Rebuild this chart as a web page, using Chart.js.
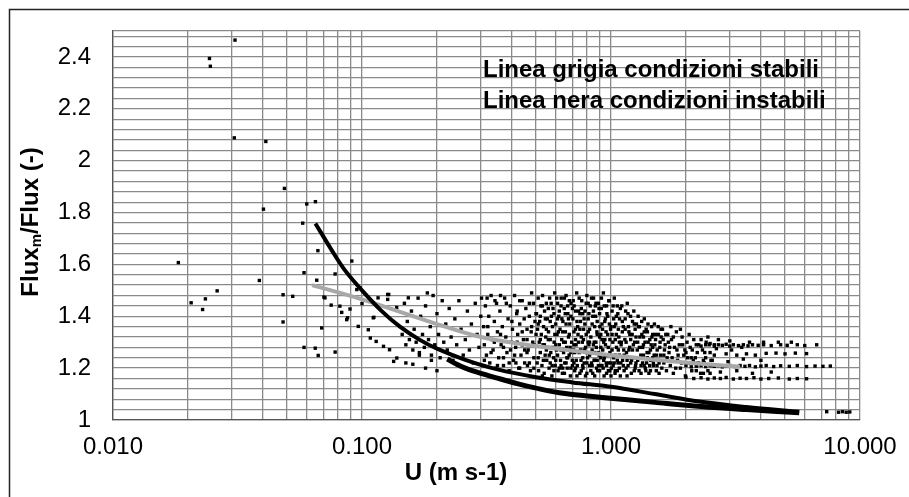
<!DOCTYPE html>
<html>
<head>
<meta charset="utf-8">
<script src="https://cdn.jsdelivr.net/npm/chart.js@4/dist/chart.umd.min.js"></script>
<style>
  html, body { margin: 0; padding: 0; background: #fff; }
  #wrap { position: relative; width: 909px; height: 497px; }
</style>
</head>
<body>
<div id="wrap"><canvas id="chart" width="909" height="497"></canvas></div>
<script>
/* Flux_m/Flux vs U — scatter with stable (grey) and unstable (black) fit lines */

// Axis setup
const xMajor = [0.01, 0.1, 1, 10];
const xLabels = ['0.010', '0.100', '1.000', '10.000'];
const yLabelVals = [1, 1.2, 1.4, 1.6, 1.8, 2, 2.2, 2.4];
const yLabels = ['1', '1.2', '1.4', '1.6', '1.8', '2', '2.2', '2.4'];
const Y_MIN = 1, Y_MAX = 2.5, Y_MINOR = 0.04;

// Fit lines [U, ratio]
const lineInstabili = [[0.065,1.758],[0.075,1.66],[0.085,1.58],[0.1,1.5],[0.12,1.42],[0.142,1.36],[0.17,1.31],[0.2,1.275],[0.26,1.232],[0.35,1.195],[0.5,1.165],[0.7,1.145],[1.0,1.128],[1.5,1.1],[2.3,1.07],[3.5,1.05],[5.7,1.032]];
const lineStabili = [[0.063,1.52],[0.1,1.465],[0.2,1.37],[0.3,1.32],[0.5,1.285],[1.0,1.25],[2.0,1.222],[3.3,1.205]];

// Dense lower band of points
const bandLower = [[0.22,1.235],[0.24,1.215],[0.26,1.2],[0.3,1.18],[0.36,1.158],[0.42,1.14],[0.49,1.125],[0.62,1.105],[0.9,1.088],[1.5,1.068],[2.3,1.052],[3.5,1.04],[5.7,1.028]];

// Scattered points
const ptsLow = [[0.0183,1.607],[0.0206,1.452],[0.0229,1.426],[0.0235,1.467],[0.0244,2.394],[0.0246,2.364],[0.0262,1.498],[0.0307,2.088],[0.0309,2.465],[0.0387,1.538],[0.0402,1.813],[0.0411,2.074],[0.0482,1.483],[0.0482,1.378],[0.0488,1.893],[0.0527,1.477],[0.0578,1.759],[0.0585,1.568],[0.0585,1.28],[0.06,1.833],[0.065,1.842],[0.0649,1.277],[0.0658,1.539],[0.0665,1.653],[0.0667,1.249],[0.0689,1.355],[0.0703,1.474],[0.071,1.471],[0.0752,1.443],[0.078,1.563],[0.078,1.262],[0.0815,1.439],[0.0829,1.415],[0.0868,1.387],[0.0875,1.394],[0.0895,1.428],[0.091,1.613],[0.0953,1.503],[0.0966,1.361],[0.098,1.51],[0.1,1.449],[0.106,1.348],[0.108,1.316],[0.111,1.394],[0.1116,1.396],[0.114,1.303],[0.116,1.471],[0.122,1.284],[0.1268,1.484],[0.1268,1.465],[0.128,1.484],[0.129,1.271],[0.134,1.226],[0.1378,1.434],[0.138,1.239],[0.1535,1.471]];

const ptsA = [[0.145,1.33],[0.148,1.45],[0.15,1.29],[0.152,1.38],[0.155,1.31],[0.158,1.42],[0.16,1.27],[0.162,1.35],[0.165,1.30],[0.168,1.47],[0.17,1.26],[0.172,1.40],[0.175,1.33],[0.178,1.28],[0.18,1.44],[0.183,1.49],[0.185,1.31],[0.188,1.36],[0.19,1.25],[0.193,1.48],[0.196,1.29],[0.2,1.41],[0.203,1.33],[0.206,1.24],[0.21,1.46],[0.213,1.30],[0.217,1.37],[0.22,1.27],[0.224,1.43],[0.228,1.32],[0.232,1.23],[0.236,1.39],[0.24,1.29],[0.245,1.46],[0.25,1.35],[0.255,1.25],[0.26,1.31],[0.265,1.42],[0.27,1.27],[0.275,1.37],[0.28,1.22],[0.285,1.45],[0.29,1.33],[0.295,1.28],[0.3,1.40],[0.15,1.22],[0.16,1.215],[0.17,1.25],[0.18,1.2],[0.19,1.23],[0.2,1.19]];

const ptsB = [[0.302,1.47],[0.305,1.21],[0.308,1.36],[0.31,1.29],[0.313,1.44],[0.316,1.25],[0.32,1.33],[0.323,1.40],[0.326,1.22],[0.33,1.48],[0.333,1.31],[0.336,1.27],[0.34,1.38],[0.344,1.20],[0.347,1.45],[0.35,1.34],[0.354,1.24],[0.358,1.42],[0.362,1.29],[0.366,1.36],[0.37,1.21],[0.374,1.47],[0.378,1.32],[0.382,1.26],[0.386,1.39],[0.39,1.19],[0.394,1.44],[0.398,1.30],[0.402,1.35],[0.406,1.23],[0.41,1.48],[0.414,1.28],[0.418,1.41],[0.422,1.33],[0.426,1.20],[0.43,1.37],[0.435,1.25],[0.44,1.46],[0.445,1.31],[0.45,1.22],[0.455,1.43],[0.46,1.35],[0.465,1.27],[0.47,1.40],[0.475,1.19],[0.48,1.49],[0.485,1.30],[0.49,1.24],[0.495,1.38],[0.5,1.33],[0.318,1.47],[0.342,1.46],[0.36,1.48],[0.38,1.45],[0.395,1.27],[0.415,1.22],[0.43,1.46],[0.448,1.39],[0.462,1.21],[0.478,1.34],[0.488,1.45],[0.34,1.30],[0.37,1.28],[0.42,1.30],[0.46,1.31],
  [0.31,1.23],[0.33,1.26],[0.35,1.21],[0.37,1.24],[0.39,1.22],[0.41,1.25],[0.43,1.2],[0.45,1.27],[0.47,1.22],[0.49,1.2],[0.32,1.36],[0.36,1.33],[0.4,1.38],[0.44,1.29],[0.48,1.36]];

const ptsC1 = [[0.502,1.41],[0.505,1.22],[0.507,1.35],[0.51,1.47],[0.512,1.19],[0.515,1.30],[0.517,1.38],[0.52,1.26],[0.523,1.44],[0.525,1.33],[0.528,1.21],[0.531,1.48],[0.533,1.29],[0.536,1.36],[0.539,1.18],[0.541,1.42],[0.544,1.25],[0.547,1.32],[0.55,1.45],[0.552,1.23],[0.555,1.39],[0.558,1.28],[0.561,1.34],[0.564,1.20],[0.567,1.47],[0.57,1.31],[0.573,1.26],[0.576,1.40],[0.579,1.17],[0.582,1.36],[0.585,1.43],[0.588,1.24],[0.591,1.30],[0.594,1.49],[0.597,1.21],[0.6,1.37],[0.604,1.27],[0.607,1.33],[0.61,1.45],[0.613,1.19],[0.617,1.40],[0.62,1.29],[0.624,1.35],[0.627,1.23],[0.631,1.47],[0.634,1.31],[0.638,1.18],[0.641,1.38],[0.645,1.26],[0.649,1.43],[0.652,1.22],[0.656,1.34],[0.66,1.48],[0.664,1.28],[0.667,1.20],[0.671,1.41],[0.675,1.32],[0.679,1.25],[0.683,1.37],[0.687,1.17],[0.691,1.45],[0.695,1.30],[0.699,1.23],[0.703,1.39],[0.707,1.27],[0.711,1.44],[0.715,1.19],[0.72,1.35],[0.724,1.29],[0.728,1.49],[0.732,1.21],[0.737,1.33],[0.741,1.42],[0.745,1.26],[0.75,1.18],[0.51,1.24],[0.53,1.17],[0.55,1.27],[0.57,1.22],[0.59,1.19],[0.61,1.25],[0.63,1.21],[0.65,1.18],[0.67,1.24],[0.69,1.20],[0.71,1.22],[0.73,1.17],[0.52,1.31],[0.56,1.43],[0.6,1.29],[0.64,1.34],[0.68,1.46],[0.72,1.31]];

const ptsC2 = [[0.754,1.38],[0.758,1.23],[0.763,1.46],[0.767,1.30],[0.772,1.20],[0.776,1.35],[0.781,1.27],[0.786,1.42],[0.79,1.17],[0.795,1.33],[0.8,1.48],[0.805,1.24],[0.81,1.39],[0.815,1.29],[0.82,1.21],[0.825,1.44],[0.83,1.32],[0.835,1.26],[0.84,1.37],[0.845,1.18],[0.851,1.47],[0.856,1.30],[0.862,1.23],[0.867,1.40],[0.873,1.28],[0.878,1.34],[0.884,1.19],[0.89,1.45],[0.896,1.25],[0.902,1.36],[0.908,1.21],[0.914,1.43],[0.92,1.31],[0.926,1.27],[0.932,1.49],[0.938,1.17],[0.944,1.38],[0.95,1.29],[0.957,1.22],[0.963,1.41],[0.97,1.33],[0.976,1.19],[0.983,1.46],[0.99,1.26],[0.996,1.35],[1.003,1.20],[1.01,1.42],[1.017,1.30],[1.024,1.24],[1.031,1.47],[1.038,1.18],[1.045,1.37],[1.052,1.28],[1.06,1.44],[1.067,1.22],[1.075,1.32],[1.082,1.39],[1.09,1.17],[1.098,1.29],[0.76,1.19],[0.78,1.22],[0.8,1.18],[0.82,1.25],[0.84,1.21],[0.86,1.17],[0.88,1.23],[0.9,1.19],[0.92,1.21],[0.94,1.24],[0.96,1.18],[0.98,1.22],[1.0,1.17],[1.02,1.21],[1.04,1.19],[1.06,1.23],[1.08,1.2],[0.77,1.41],[0.81,1.34],[0.85,1.29],[0.87,1.45],[0.91,1.33],[0.95,1.39],[0.99,1.31],[1.03,1.36],[1.07,1.27]];

const ptsC3 = [[1.105,1.44],[1.113,1.23],[1.121,1.36],[1.129,1.19],[1.137,1.31],[1.145,1.42],[1.154,1.26],[1.162,1.45],[1.171,1.21],[1.18,1.34],[1.189,1.28],[1.198,1.40],[1.207,1.18],[1.216,1.33],[1.226,1.24],[1.235,1.42],[1.245,1.30],[1.255,1.21],[1.265,1.37],[1.275,1.27],[1.285,1.40],[1.296,1.19],[1.306,1.32],[1.317,1.25],[1.328,1.38],[1.339,1.22],[1.35,1.29],[1.361,1.39],[1.373,1.20],[1.384,1.35],[1.396,1.26],[1.408,1.37],[1.42,1.18],[1.432,1.31],[1.444,1.23],[1.456,1.36],[1.469,1.28],[1.481,1.21],[1.494,1.37],[1.507,1.33],[1.52,1.19],[1.533,1.27],[1.547,1.36],[1.56,1.22],[1.574,1.30],[1.588,1.35],[1.12,1.21],[1.16,1.17],[1.2,1.22],[1.24,1.19],[1.28,1.23],[1.32,1.18],[1.36,1.21],[1.4,1.24],[1.44,1.19],[1.48,1.22],[1.52,1.25],[1.56,1.18],[1.15,1.3],[1.25,1.35],[1.35,1.32],[1.45,1.29]];

const ptsCore = [[0.42,1.42],[0.44,1.34],[0.46,1.26],[0.47,1.45],[0.49,1.29],[0.5,1.41],[0.51,1.37],[0.53,1.44],[0.54,1.29],[0.545,1.39],[0.56,1.31],[0.565,1.25],[0.575,1.45],[0.58,1.28],[0.59,1.41],[0.6,1.23],[0.605,1.47],[0.615,1.34],[0.62,1.42],[0.63,1.27],[0.635,1.39],[0.64,1.2],[0.65,1.47],[0.655,1.3],[0.66,1.37],[0.665,1.24],[0.67,1.44],[0.68,1.33],[0.685,1.28],[0.69,1.4],[0.7,1.21],[0.705,1.46],[0.71,1.34],[0.715,1.26],[0.72,1.42],[0.725,1.23],[0.73,1.38],[0.74,1.3],[0.745,1.47],[0.75,1.35],[0.755,1.27],[0.76,1.43],[0.77,1.24],[0.775,1.31],[0.78,1.39],[0.79,1.28],[0.795,1.45],[0.8,1.22],[0.81,1.3],[0.815,1.41],[0.82,1.35],[0.83,1.19],[0.835,1.47],[0.84,1.27],[0.85,1.42],[0.855,1.23],[0.86,1.36],[0.87,1.3],[0.875,1.2],[0.88,1.38],[0.89,1.26],[0.895,1.43],[0.9,1.32],[0.91,1.24],[0.915,1.47],[0.92,1.37],[0.93,1.2],[0.935,1.3],[0.94,1.44],[0.95,1.25],[0.955,1.34],[0.96,1.21],[0.97,1.4],[0.975,1.28],[0.98,1.46],[0.99,1.19],[1.0,1.36],[1.01,1.27],[1.02,1.44],[1.03,1.22],[1.04,1.31],[1.05,1.4],[1.06,1.19],[1.07,1.35],[1.08,1.25],[1.09,1.43],[1.1,1.3],[1.11,1.38],[1.13,1.25],[1.14,1.35],[1.15,1.2],[1.17,1.41],[1.18,1.27],[1.19,1.33],[1.21,1.23],[1.22,1.38],[1.23,1.29],[1.25,1.2],[1.26,1.32],[1.27,1.24],[1.29,1.36],[1.3,1.28],[1.32,1.21],[1.33,1.33],[1.35,1.25],[1.37,1.3],[1.38,1.19],[1.4,1.34],[1.42,1.26],[1.43,1.21],[1.46,1.32],[1.47,1.24],[1.5,1.29],[1.53,1.21],[1.55,1.33],[1.58,1.25],[1.6,1.2],[1.64,1.27],[1.7,1.3],[1.76,1.24],[1.84,1.27],[1.92,1.22],[2.0,1.26],[2.1,1.24],[2.2,1.19],[2.35,1.23],[2.5,1.18]];

const ptsCore2 = [[0.52,1.4],[0.535,1.23],[0.55,1.35],[0.57,1.38],[0.58,1.21],[0.595,1.33],[0.61,1.39],[0.62,1.2],[0.63,1.44],[0.645,1.3],[0.655,1.41],[0.66,1.22],[0.675,1.39],[0.69,1.26],[0.7,1.43],[0.71,1.29],[0.72,1.2],[0.735,1.36],[0.75,1.41],[0.76,1.32],[0.77,1.21],[0.785,1.37],[0.8,1.26],[0.81,1.45],[0.82,1.3],[0.835,1.22],[0.845,1.4],[0.86,1.26],[0.865,1.44],[0.88,1.33],[0.89,1.21],[0.9,1.41],[0.91,1.28],[0.925,1.35],[0.935,1.23],[0.945,1.31],[0.96,1.44],[0.97,1.25],[0.985,1.37],[1.0,1.22],[1.01,1.33],[1.025,1.39],[1.04,1.25],[1.05,1.33],[1.065,1.41],[1.08,1.3],[1.095,1.22],[1.11,1.34],[1.125,1.27],[1.14,1.39],[1.16,1.23],[1.175,1.36],[1.19,1.24],[1.2,1.31],[1.22,1.27],[1.24,1.37],[1.26,1.22],[1.28,1.3],[1.3,1.36],[1.31,1.24],[1.34,1.28],[1.36,1.34],[1.39,1.22],[1.41,1.3],[1.44,1.27],[1.47,1.33],[1.49,1.25],[1.51,1.31],[1.54,1.23],[1.57,1.28],[1.59,1.32],[1.63,1.25],[1.66,1.33],[1.72,1.28],[1.78,1.32],[1.86,1.25],[1.94,1.29],[2.03,1.24],[2.12,1.27],[2.24,1.22],[2.38,1.26],[2.52,1.23]];

const ptsD = [[1.61,1.35],[1.63,1.22],[1.65,1.29],[1.67,1.19],[1.69,1.33],[1.71,1.26],[1.73,1.21],[1.75,1.31],[1.78,1.18],[1.8,1.28],[1.83,1.34],[1.85,1.23],[1.88,1.29],[1.9,1.20],[1.93,1.32],[1.96,1.25],[1.99,1.17],[2.02,1.30],[2.05,1.22],[2.08,1.28],[2.11,1.19],[2.15,1.31],[2.18,1.24],[2.21,1.21],[2.25,1.29],[2.29,1.18],[2.33,1.27],[2.37,1.22],[2.41,1.30],[2.45,1.19],[2.5,1.26],[2.55,1.21],[2.6,1.29],[1.62,1.31],[1.68,1.24],[1.74,1.36],[1.82,1.20],[1.9,1.35],[1.98,1.27],[2.06,1.33],[2.14,1.23],[2.22,1.26],[2.3,1.31],[2.4,1.24],[2.48,1.29]];

const ptsStreaks = [[2.2,1.29],[2.3,1.285],[2.4,1.29],[2.5,1.295],[2.6,1.285],[2.7,1.29],[2.8,1.288],[2.9,1.292],[3.0,1.285],[3.1,1.29],[3.25,1.287],[3.4,1.29],[3.55,1.286],[3.7,1.29],[3.9,1.288],[4.1,1.29],[4.4,1.287],[4.8,1.29],[5.1,1.288],[5.6,1.29],[6.0,1.287],[6.7,1.29],
  [2.6,1.25],[2.9,1.255],[3.2,1.25],[3.5,1.255],[3.8,1.25],[4.2,1.257],[4.6,1.258],[5.0,1.255],[5.5,1.258],[6.1,1.256],
  [2.0,1.21],[2.1,1.205],[2.2,1.208],[2.3,1.21],[2.4,1.206],[2.5,1.21],[2.6,1.207],[2.7,1.21],[2.8,1.205],[2.9,1.208],[3.0,1.21],[3.15,1.206],[3.3,1.21],[3.45,1.207],[3.6,1.21],[3.8,1.205],[4.0,1.208],[4.2,1.21],[4.5,1.206],[4.8,1.209],[5.2,1.207],[5.6,1.21],[6.1,1.206],[6.6,1.208],[7.1,1.207],[7.6,1.208],
  [2.0,1.165],[2.15,1.16],[2.3,1.163],[2.45,1.158],[2.6,1.162],[2.75,1.16],[2.9,1.164],[3.1,1.158],[3.3,1.161],[3.5,1.16],[3.75,1.163],[4.0,1.158],[4.3,1.16],[4.7,1.162],[5.2,1.158],[5.6,1.16],[6.1,1.159],
  [2.35,1.18],[2.55,1.23],[2.75,1.185],[2.95,1.225],[3.2,1.19],[3.4,1.235],[3.7,1.18],[4.0,1.23],[4.4,1.185],[2.65,1.275],[3.05,1.27],[3.35,1.28],[2.45,1.32],[2.7,1.31],[3.0,1.305],[3.6,1.30],[4.1,1.30],[4.7,1.30],[5.3,1.30],
  [7.35,1.032],[8.2,1.03],[8.5,1.032],[8.8,1.03],[9.1,1.031]];

const toXY = arr => arr.map(p => ({ x: p[0], y: p[1] }));
const allPts = [].concat(ptsLow, ptsA, ptsB, ptsC1, ptsC2, ptsC3, ptsCore, ptsCore2, ptsD, ptsStreaks);

// grid positions
const xGrid = [];
[0.01, 0.1, 1].forEach(d => { for (let m = 1; m <= 9; m++) xGrid.push(+(m * d).toPrecision(6)); });
xGrid.push(10);
const yGrid = [];
for (let v = Y_MIN; v < Y_MAX - 1e-9; v += Y_MINOR) yGrid.push(+v.toFixed(2));
yGrid.push(Y_MAX);

const FONT = "'Liberation Sans', Arial, sans-serif";

const decorPlugin = {
  id: 'decor',
  afterDraw(chart) {
    const ctx = chart.ctx;
    ctx.save();
    // outer frame (only top/left visible)
    ctx.strokeStyle = '#222';
    ctx.lineWidth = 1.5;
    ctx.strokeRect(9.5, 9.5, 1200, 1200);

    ctx.fillStyle = '#000';
    // annotation
    ctx.font = 'bold 24px ' + FONT;
    ctx.textBaseline = 'alphabetic';
    ctx.textAlign = 'left';
    ctx.fillText('Linea grigia condizioni stabili', 483, 77);
    ctx.fillText('Linea nera condizioni instabili', 483, 108);

    // x title
    ctx.textAlign = 'center';
    ctx.textBaseline = 'middle';
    ctx.fillText('U (m s-1)', 456, 473);

    // y title with subscript
    ctx.translate(31, 222);
    ctx.rotate(-Math.PI / 2);
    ctx.textAlign = 'left';
    const big = 'bold 24px ' + FONT, small = 'bold 15px ' + FONT;
    ctx.font = big; const w1 = ctx.measureText('Flux').width;
    ctx.font = small; const w2 = ctx.measureText('m').width;
    ctx.font = big; const w3 = ctx.measureText('/Flux (-)').width;
    let x = -(w1 + w2 + w3) / 2;
    ctx.font = big; ctx.fillText('Flux', x, 0); x += w1;
    ctx.font = small; ctx.fillText('m', x, 6); x += w2;
    ctx.font = big; ctx.fillText('/Flux (-)', x, 0);
    ctx.restore();
  }
};

new Chart(document.getElementById('chart'), {
  type: 'scatter',
  data: {
    datasets: [
      { data: toXY(lineInstabili), showLine: true, borderColor: '#000', borderWidth: 4, pointRadius: 0, tension: 0.35 },
      { data: toXY(lineStabili), showLine: true, borderColor: '#a8a8a8', borderWidth: 4, pointRadius: 0, tension: 0.35 },
      { data: toXY(bandLower), showLine: true, borderColor: '#000', borderWidth: 5, pointRadius: 0, tension: 0.35 },
      { data: toXY(allPts), pointStyle: 'rect', pointRadius: 2.4, backgroundColor: '#000', borderWidth: 0 }
    ]
  },
  options: {
    responsive: false,
    animation: false,
    events: [],
    layout: { padding: { top: 31, right: 49, left: 0, bottom: 0 } },
    plugins: { legend: { display: false }, tooltip: { enabled: false } },
    scales: {
      x: {
        type: 'logarithmic',
        min: 0.01, max: 10,
        afterBuildTicks: s => { s.ticks = xGrid.map(v => ({ value: v })); },
        afterFit: s => { s.height = 77; s.paddingLeft = 0; s.paddingRight = 0; },
        grid: { color: '#8a8a8a', lineWidth: 1.3, drawTicks: false },
        border: { color: '#555', width: 1.3 },
        ticks: {
          autoSkip: false, maxRotation: 0, padding: 13, color: '#000',
          font: { family: FONT, size: 24 },
          callback: v => { const i = xMajor.findIndex(m => Math.abs(m - v) / m < 1e-6); return i >= 0 ? xLabels[i] : ''; }
        }
      },
      y: {
        type: 'linear',
        min: Y_MIN, max: Y_MAX,
        afterBuildTicks: s => { s.ticks = yGrid.map(v => ({ value: v })); },
        afterFit: s => { s.width = 113; s.paddingTop = 0; s.paddingBottom = 0; },
        grid: { color: '#8a8a8a', lineWidth: 1.3, drawTicks: false },
        border: { color: '#555', width: 1.3 },
        ticks: {
          autoSkip: false, padding: 22, color: '#000',
          font: { family: FONT, size: 24 },
          callback: v => { const i = yLabelVals.findIndex(m => Math.abs(m - v) < 1e-6); return i >= 0 ? yLabels[i] : ''; }
        }
      }
    }
  },
  plugins: [decorPlugin]
});
</script>
</body>
</html>
